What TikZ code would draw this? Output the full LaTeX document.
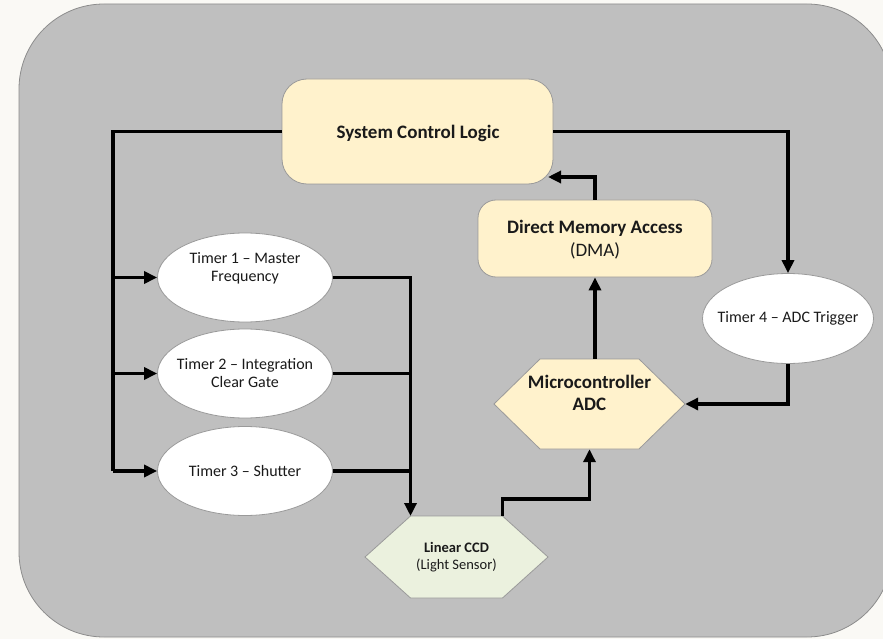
\documentclass[tikz,border=0pt]{standalone}
\usepackage{fontspec}
\setmainfont{Carlito}
\usetikzlibrary{arrows.meta,shapes.geometric,calc}
\definecolor{pagebg}{HTML}{FAF9F5}
\definecolor{panelfill}{HTML}{BFBFBF}
\definecolor{panelline}{HTML}{8C8C8C}
\definecolor{yellowfill}{HTML}{FFF2CC}
\definecolor{greenfill}{HTML}{EBF1DE}
\definecolor{shapeline}{HTML}{9A9A9A}
\definecolor{txt}{HTML}{1A1A1A}
\begin{document}
\begin{tikzpicture}[x=1pt,y=-1pt,
  panel/.style={fill=panelfill,draw=panelline,line width=0.8pt,rounded corners=85pt},
  yellowbox/.style={fill=yellowfill,draw=shapeline,line width=0.8pt,inner sep=0pt,text=txt},
  timerell/.style={ellipse,fill=white,draw=shapeline,line width=0.8pt,inner sep=0pt,minimum width=175pt,minimum height=89pt},
  bigtext/.style={font=\fontsize{19}{22.5}\selectfont,align=center,text=txt,inner sep=0pt},
  midtext/.style={font=\fontsize{16}{18}\selectfont,align=center,text=txt,inner sep=0pt},
  smalltext/.style={font=\fontsize{14.5}{17}\selectfont,align=center,text=txt,inner sep=0pt},
  hexshape/.style={draw=shapeline,line width=0.8pt},
  conn/.style={line width=3.3pt,line join=miter,draw=black},
  arr/.style={conn,-{Triangle[length=13pt,width=12pt]}}
]
\useasboundingbox[fill=pagebg] (0,0) rectangle (883,639);
\clip (0,0) rectangle (883,639);
\draw[panel] (19,4) rectangle (892,637);

% System Control Logic
\node[yellowbox,rounded corners=25pt,minimum width=271pt,minimum height=105pt] (sys) at (417.5,131.5) {};
\node[bigtext] (syslbl) at (418,133) {\textbf{System Control Logic}};

% DMA
\node[yellowbox,rounded corners=18pt,minimum width=234pt,minimum height=77pt] (dma) at (595,238.5) {};
\node[bigtext] (dmalbl) at (595,239.5) {\textbf{Direct Memory Access}\\(DMA)};

% Timers
\node[timerell] (t1) at (245,277.5) {};
\node[midtext] (t1lbl) at (245,268) {Timer 1 – Master\\Frequency};
\node[timerell] (t2) at (245,373.5) {};
\node[midtext] (t2lbl) at (245,373.5) {Timer 2 – Integration\\Clear Gate};
\node[timerell] (t3) at (245,471) {};
\node[midtext] (t3lbl) at (245,471) {Timer 3 – Shutter};
\node[timerell,minimum width=171pt,minimum height=90pt] (t4) at (788,318.5) {};
\node[midtext] (t4lbl) at (788,318.5) {Timer 4 – ADC Trigger};

% Microcontroller ADC hexagon
\coordinate (adcc) at (589.5,404);
\filldraw[hexshape,fill=yellowfill] ($(adcc)+(-95.5,0)$) -- ($(adcc)+(-49.5,-45)$) -- ($(adcc)+(49.5,-45)$) -- ($(adcc)+(95.5,0)$) -- ($(adcc)+(49.5,45)$) -- ($(adcc)+(-49.5,45)$) -- cycle;
\node[inner sep=0pt,minimum width=191pt,minimum height=90pt] (adc) at (adcc) {};
\node[bigtext] (adclbl) at ($(adcc)+(0,-11)$) {\textbf{Microcontroller}\\\textbf{ADC}};

% Linear CCD hexagon
\coordinate (ccdc) at (456.5,557);
\filldraw[hexshape,fill=greenfill] ($(ccdc)+(-91.5,0)$) -- ($(ccdc)+(-46,-41)$) coordinate (ccdTL) -- ($(ccdc)+(46,-41)$) coordinate (ccdTR) -- ($(ccdc)+(91.5,0)$) -- ($(ccdc)+(46,41)$) -- ($(ccdc)+(-46,41)$) -- cycle;
\node[smalltext] (ccd) at (ccdc) {\textbf{Linear CCD}\\(Light Sensor)};

% connectors
\coordinate (busL) at (113,0);
\coordinate (busR) at (410.5,0);
\coordinate (sysin) at (548,177);
\draw[conn] (sys.west) -| (busL |- t3.west);
\draw[arr] (busL |- t1.west) -- (t1.west);
\draw[arr] (busL |- t2.west) -- (t2.west);
\draw[arr] (busL |- t3.west) -- (t3.west);
\draw[arr] (t1.east) -| (ccdTL);
\draw[conn] (t2.east) -- (busR |- t2.east);
\draw[conn] (t3.east) -- (busR |- t3.east);
\draw[arr] (ccdTR) -- ++(0,-17) -| (adc.south);
\draw[arr] (adc.north -| dma.south) -- (dma.south);
\draw[arr] (dma.north) |- (sysin);
\draw[arr] (sys.east) -| (t4.north);
\draw[arr] (t4.south) |- (adc.east);
\end{tikzpicture}
\end{document}
